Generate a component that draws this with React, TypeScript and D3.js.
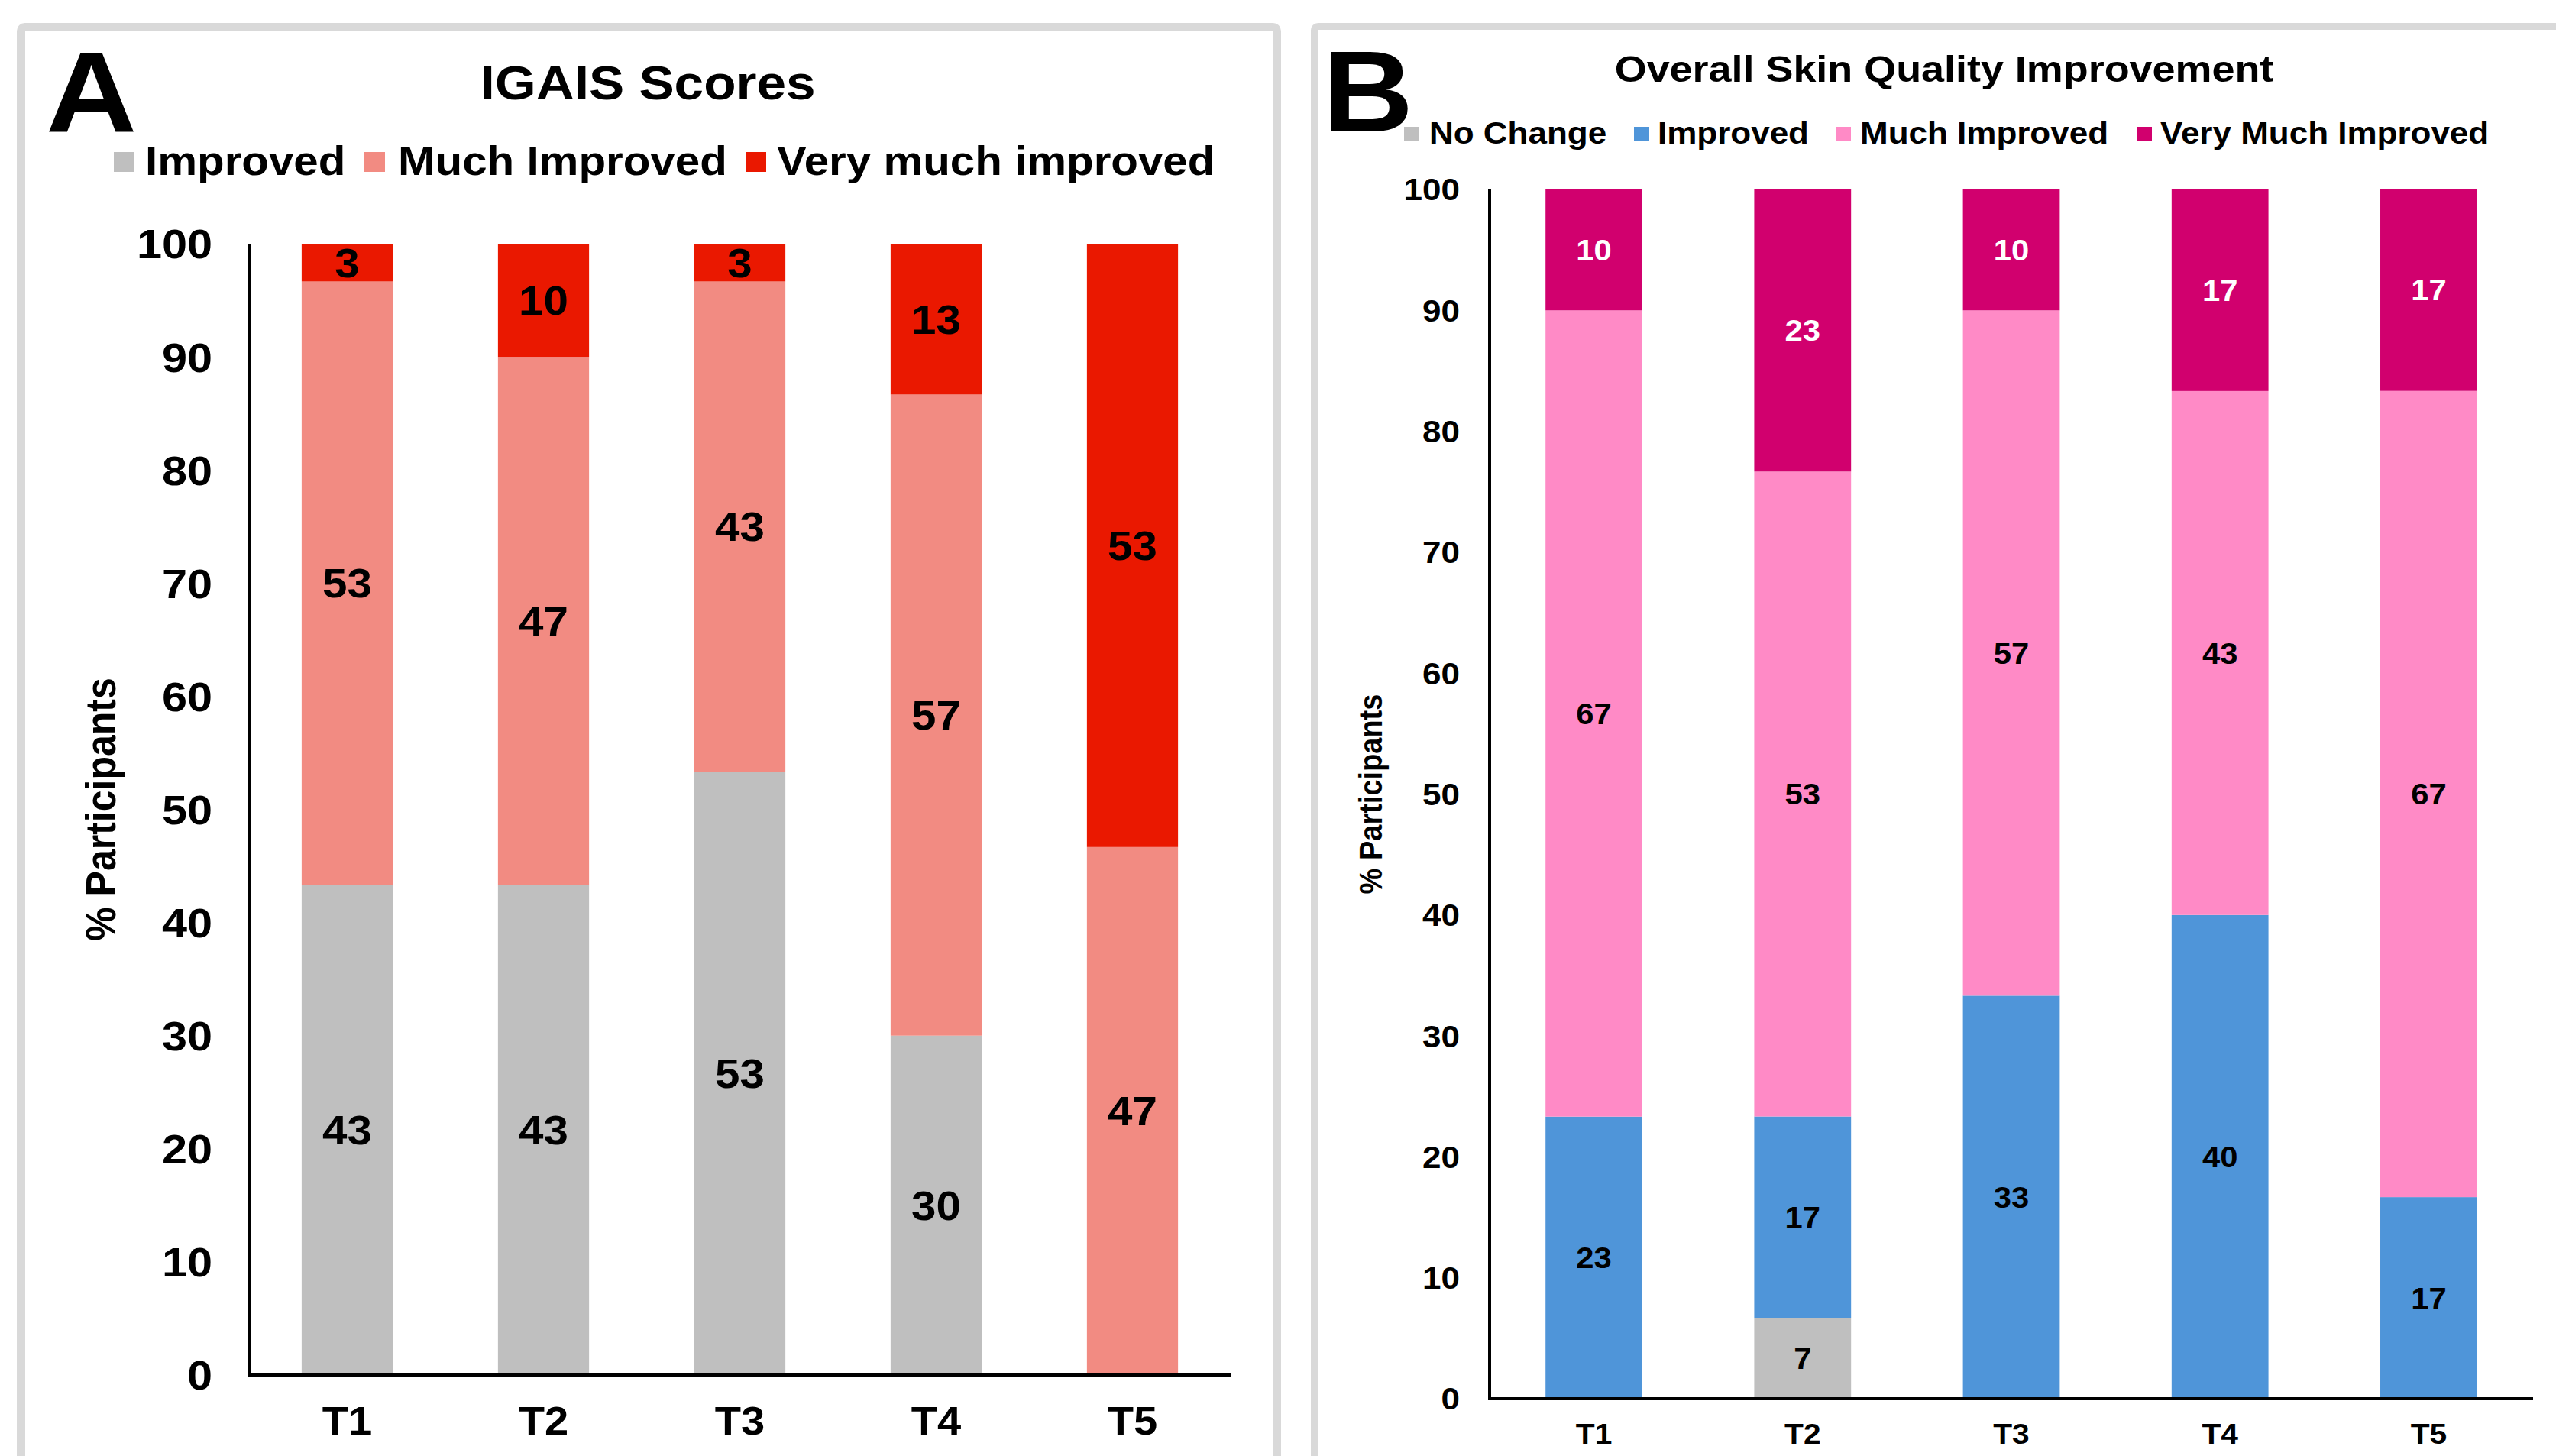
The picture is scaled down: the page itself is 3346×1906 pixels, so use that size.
import React, { useEffect } from "react";
import * as d3 from "d3";

// ---------- data ----------
const categories = ["T1", "T2", "T3", "T4", "T5"];
const yTicks = [0, 10, 20, 30, 40, 50, 60, 70, 80, 90, 100];

// Panel A – IGAIS Scores (% participants)
const aSeriesNames = ["Improved", "Much Improved", "Very much improved"];
const aImproved = [43.33, 43.33, 53.33, 30.0, 0];
const aMuchImproved = [53.33, 46.67, 43.33, 56.67, 46.67];
const aVeryMuchImproved = [3.33, 10.0, 3.33, 13.33, 53.33];
const aColors = ["#BFBFBF", "#F28B82", "#EA1800"];
const aLabelColors = ["#000", "#000", "#000"];

// Panel B – Overall Skin Quality Improvement (% participants)
const bSeriesNames = ["No Change", "Improved", "Much Improved", "Very Much Improved"];
const bNoChange = [0, 6.67, 0, 0, 0];
const bImproved = [23.33, 16.67, 33.33, 40.0, 16.67];
const bMuchImproved = [66.67, 53.33, 56.67, 43.33, 66.67];
const bVeryMuchImproved = [10.0, 23.33, 10.0, 16.67, 16.67];
const bColors = ["#BFBFBF", "#4F95D9", "#FF8AC6", "#D1006E"];
const bLabelColors = ["#000", "#000", "#000", "#FFF"];

// ---------- layout ----------
const W = 3346;
const H = 1906;
const FONT = "'Liberation Sans', Arial, Helvetica, sans-serif";
const SX = 1.1; // horizontal stretch of text seen in the reference

type PanelCfg = {
  letter: string;
  letterX: number;
  title: string;
  titleX: number;
  titleY: number;
  titleSize: number;
  names: string[];
  series: number[][];
  colors: string[];
  labelColors: string[];
  legendSwX: number[];
  legendTxX: number[];
  legendSwY: number;
  legendSwW: number;
  legendSwH: number;
  legendBase: number;
  legendSize: number;
  x0: number;
  x1: number;
  yTop: number;
  yBot: number;
  tickRight: number;
  tickSize: number;
  dataSize: number;
  xLabBase: number;
  xLabSize: number;
  yTitleX: number;
  yTitleSize: number;
  frameX: number;
  frameY: number;
  frameW: number;
  frameStroke: number;
};

const panels: PanelCfg[] = [
  {
    letter: "A",
    letterX: 60,
    title: "IGAIS Scores",
    titleX: 848,
    titleY: 130,
    titleSize: 63,
    names: aSeriesNames,
    series: [aImproved, aMuchImproved, aVeryMuchImproved],
    colors: aColors,
    labelColors: aLabelColors,
    legendSwX: [149, 477, 976],
    legendTxX: [190, 521, 1017],
    legendSwY: 199,
    legendSwW: 27,
    legendSwH: 26,
    legendBase: 229,
    legendSize: 53,
    x0: 326,
    x1: 1611,
    yTop: 319,
    yBot: 1800,
    tickRight: 278,
    tickSize: 54,
    dataSize: 53,
    xLabBase: 1878,
    xLabSize: 51,
    yTitleX: 151,
    yTitleSize: 50,
    frameX: 27.5,
    frameY: 35.5,
    frameW: 1644,
    frameStroke: 11,
  },
  {
    letter: "B",
    letterX: 1731,
    title: "Overall Skin Quality Improvement",
    titleX: 2545,
    titleY: 107,
    titleSize: 49,
    names: bSeriesNames,
    series: [bNoChange, bImproved, bMuchImproved, bVeryMuchImproved],
    colors: bColors,
    labelColors: bLabelColors,
    legendSwX: [1838, 2139, 2403, 2797],
    legendTxX: [1871, 2170, 2435, 2828],
    legendSwY: 166,
    legendSwW: 20,
    legendSwH: 18,
    legendBase: 188,
    legendSize: 40,
    x0: 1950,
    x1: 3316,
    yTop: 248,
    yBot: 1831,
    tickRight: 1911,
    tickSize: 40,
    dataSize: 38,
    xLabBase: 1890,
    xLabSize: 37,
    yTitleX: 1809,
    yTitleSize: 38,
    frameX: 1720.5,
    frameY: 34.5,
    frameW: 2000,
    frameStroke: 9,
  },
];

function Panel({ p }: { p: PanelCfg }) {
  const x = d3
    .scaleBand<string>()
    .domain(categories)
    .range([p.x0, p.x1])
    .paddingInner(0.536)
    .paddingOuter(0.268);
  const y = d3.scaleLinear().domain([0, 100]).range([p.yBot, p.yTop]);

  const rows = categories.map((c, i) => {
    const r: Record<string, number | string> = { cat: c };
    p.names.forEach((n, k) => (r[n] = p.series[k][i]));
    return r;
  });
  const stack = d3.stack<Record<string, number | string>>().keys(p.names)(rows as any);

  const yMid = (p.yTop + p.yBot) / 2;

  return (
    <g fontFamily={FONT} fontWeight="bold">
      {/* frame */}
      <rect
        x={p.frameX}
        y={p.frameY}
        width={p.frameW}
        height={3000}
        rx={5}
        fill="none"
        stroke="#D9D9D9"
        strokeWidth={p.frameStroke}
      />
      {/* panel letter */}
      <text transform={`translate(${p.letterX},172) scale(${SX},1)`} fontSize={150} fill="#000">
        {p.letter}
      </text>
      {/* title */}
      <text
        transform={`translate(${p.titleX},${p.titleY}) scale(${SX},1)`}
        textAnchor="middle"
        fontSize={p.titleSize}
        fill="#000"
      >
        {p.title}
      </text>
      {/* legend */}
      {p.names.map((n, k) => (
        <g key={n}>
          <rect
            x={p.legendSwX[k]}
            y={p.legendSwY}
            width={p.legendSwW}
            height={p.legendSwH}
            fill={p.colors[k]}
          />
          <text
            transform={`translate(${p.legendTxX[k]},${p.legendBase}) scale(${SX},1)`}
            fontSize={p.legendSize}
            fill="#000"
          >
            {n}
          </text>
        </g>
      ))}
      {/* bars */}
      {stack.map((layer, k) => (
        <g key={p.names[k]}>
          {layer.map((d, i) => {
            const h = y(d[0]) - y(d[1]);
            if (h <= 0) return null;
            return (
              <rect
                key={i}
                x={x(categories[i])!}
                y={y(d[1])}
                width={x.bandwidth()}
                height={h}
                fill={p.colors[k]}
              />
            );
          })}
        </g>
      ))}
      {/* data labels */}
      {stack.map((layer, k) => (
        <g key={"l" + p.names[k]}>
          {layer.map((d, i) => {
            const v = p.series[k][i];
            if (v <= 0) return null;
            const cy = y((d[0] + d[1]) / 2);
            const cx = x(categories[i])! + x.bandwidth() / 2;
            return (
              <text
                key={i}
                transform={`translate(${cx},${cy + p.dataSize * 0.36}) scale(${SX},1)`}
                textAnchor="middle"
                fontSize={p.dataSize}
                fill={p.labelColors[k]}
              >
                {Math.round(v)}
              </text>
            );
          })}
        </g>
      ))}
      {/* y axis */}
      <line x1={p.x0} x2={p.x0} y1={p.yTop} y2={p.yBot} stroke="#000" strokeWidth={4} />
      {yTicks.map((t) => (
        <text
          key={t}
          transform={`translate(${p.tickRight},${y(t) + p.tickSize * 0.36}) scale(${SX},1)`}
          textAnchor="end"
          fontSize={p.tickSize}
          fill="#000"
        >
          {t}
        </text>
      ))}
      {/* x axis */}
      <line x1={p.x0 - 2} x2={p.x1} y1={p.yBot} y2={p.yBot} stroke="#000" strokeWidth={4} />
      {categories.map((c) => (
        <text
          key={c}
          transform={`translate(${x(c)! + x.bandwidth() / 2},${p.xLabBase}) scale(${SX},1)`}
          textAnchor="middle"
          fontSize={p.xLabSize}
          fill="#000"
        >
          {c}
        </text>
      ))}
      {/* y title */}
      <text
        transform={`translate(${p.yTitleX},${yMid}) scale(${SX},1) rotate(-90)`}
        textAnchor="middle"
        fontSize={p.yTitleSize}
        fill="#000"
      >
        % Participants
      </text>
    </g>
  );
}

export default function App() {
  useEffect(() => {
    document.body.style.margin = "0";
    document.body.style.overflow = "hidden";
  }, []);
  return (
    <svg
      width={W}
      height={H}
      viewBox={`0 0 ${W} ${H}`}
      style={{ position: "absolute", left: 0, top: 0, background: "#fff" }}
    >
      <rect x={0} y={0} width={W} height={H} fill="#fff" />
      {panels.map((p) => (
        <Panel key={p.letter} p={p} />
      ))}
    </svg>
  );
}
